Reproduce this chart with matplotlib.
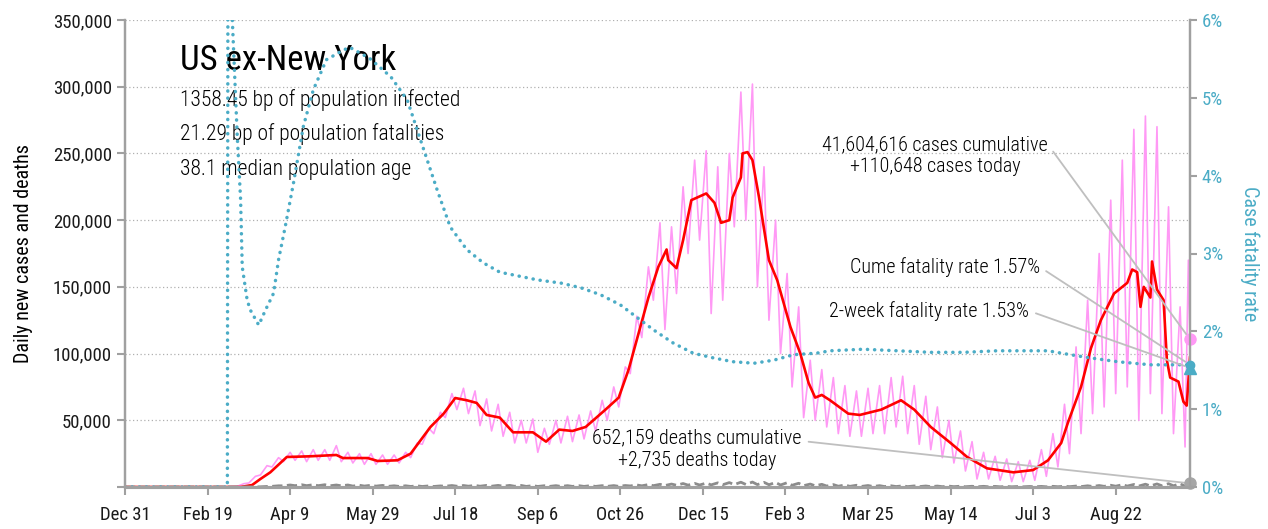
import pandas as pd
import matplotlib
matplotlib.use('Agg')
import matplotlib.pyplot as plt

plt.rcParams['font.family'] = ['Roboto Condensed', 'DejaVu Sans']
plt.rcParams['font.weight'] = 400

# 每周数据：周日低点 / 周四高点
week_start = '2020-03-01'
cases_hi = [300, 2500, 8000, 16000, 22000, 26000, 27000, 28000, 28000, 31000,
            26000, 25000, 25000, 24000, 24000, 26000, 33000, 44000, 56000, 70000,
            74000, 72000, 66000, 62000, 56000, 50000, 51000, 44000, 50000, 53000,
            54000, 57000, 65000, 75000, 90000, 128000, 165000, 198000, 195000, 225000,
            245000, 252000, 240000, 250000, 296000, 302000, 240000, 200000, 160000, 135000,
            95000, 88000, 82000, 76000, 72000, 74000, 76000, 82000, 83000, 76000,
            68000, 60000, 50000, 42000, 34000, 26000, 23000, 21000, 19000, 20000,
            28000, 40000, 62000, 105000, 140000, 175000, 215000, 245000, 268000, 278000,
            270000, 210000, 135000]
cases_lo = [50, 500, 3000, 9000, 15000, 19000, 20000, 19000, 20000, 20000,
            19000, 18000, 17000, 17000, 17000, 18000, 22000, 32000, 40000, 52000,
            58000, 55000, 46000, 42000, 38000, 33000, 33000, 26000, 32000, 33000,
            34000, 36000, 42000, 50000, 60000, 85000, 112000, 140000, 118000, 145000,
            175000, 185000, 130000, 140000, 195000, 200000, 150000, 125000, 100000, 75000,
            52000, 50000, 45000, 40000, 38000, 38000, 40000, 40000, 45000, 40000,
            32000, 28000, 22000, 18000, 12000, 6000, 6000, 5000, 4000, 4000,
            5000, 8000, 15000, 25000, 40000, 55000, 60000, 70000, 75000, 50000,
            70000, 55000, 40000, 30000]
deaths_hi = [0, 10, 80, 400, 900, 1500, 1700, 1700, 1700, 1500,
             1500, 1300, 1300, 1200, 900, 900, 850, 800, 800, 1100,
             1100, 1150, 1200, 1200, 1200, 1150, 1000, 950, 1000, 1000,
             950, 1000, 1000, 1050, 1100, 1500, 1800, 2000, 2200, 2600,
             2700, 2900, 3100, 3300, 3600, 3700, 3500, 3400, 3200, 2800,
             2200, 2000, 1800, 1500, 1300, 1100, 1000, 900, 850, 800,
             750, 700, 650, 600, 550, 500, 450, 420, 400, 400,
             450, 500, 550, 700, 900, 1100, 1300, 1700, 1900, 2100,
             2300, 2500, 2500]
deaths_lo = [0, 5, 30, 150, 500, 900, 1000, 1000, 1000, 900,
             900, 700, 700, 650, 450, 450, 420, 400, 400, 600,
             600, 620, 600, 600, 600, 550, 450, 420, 450, 450,
             450, 450, 450, 480, 500, 800, 900, 1000, 1100, 1300,
             1400, 1500, 1600, 1700, 1800, 1900, 1800, 1700, 1500, 1300,
             1000, 900, 700, 600, 500, 450, 400, 350, 350, 300,
             300, 280, 250, 250, 200, 150, 150, 150, 150, 150,
             150, 150, 200, 250, 300, 400, 500, 600, 700, 700,
             800, 900, 900, 600]
tail_dates = ['2021-10-05', '2021-10-06']
cases_tail = [170000, 110648]
deaths_tail = [2400, 2735]

# 7日均线
avg_dates = ['2019-12-31', '2020-03-10', '2020-03-17', '2020-03-22', '2020-03-28', '2020-04-07',
             '2020-04-21', '2020-05-07', '2020-05-11', '2020-05-26', '2020-06-01', '2020-06-13',
             '2020-06-21', '2020-06-27', '2020-07-03', '2020-07-11', '2020-07-18', '2020-07-25',
             '2020-07-31', '2020-08-06', '2020-08-14', '2020-08-22', '2020-09-03', '2020-09-11',
             '2020-09-19', '2020-09-27', '2020-10-05', '2020-10-17', '2020-10-25', '2020-10-31',
             '2020-11-06', '2020-11-12', '2020-11-18', '2020-11-23', '2020-11-24', '2020-11-29',
             '2020-12-03', '2020-12-08', '2020-12-17', '2020-12-22', '2020-12-26', '2020-12-31',
             '2021-01-02', '2021-01-07', '2021-01-08', '2021-01-11', '2021-01-14', '2021-01-18',
             '2021-01-24', '2021-01-29', '2021-02-06', '2021-02-12', '2021-02-17', '2021-02-21',
             '2021-02-25', '2021-03-02', '2021-03-13', '2021-03-20', '2021-04-02', '2021-04-14',
             '2021-04-22', '2021-05-02', '2021-05-14', '2021-05-24', '2021-06-05', '2021-06-21',
             '2021-07-03', '2021-07-12', '2021-07-20', '2021-07-24', '2021-08-01', '2021-08-07',
             '2021-08-13', '2021-08-21', '2021-08-29', '2021-09-01', '2021-09-04', '2021-09-06',
             '2021-09-08', '2021-09-12', '2021-09-13', '2021-09-16', '2021-09-20', '2021-09-22',
             '2021-09-24', '2021-09-29', '2021-10-02', '2021-10-04', '2021-10-06']
avg_vals = [0, 0, 1500, 6000, 11000, 22500,
            23000, 24000, 21700, 21700, 19500, 20000,
            25000, 35000, 45000, 55000, 66700, 65000,
            63000, 54000, 52000, 41000, 41000, 34000,
            43000, 42000, 45000, 58000, 67000, 88000,
            115000, 142000, 165000, 178000, 170000, 164000,
            185000, 215000, 220000, 213000, 198000, 200000,
            217000, 232000, 250000, 251000, 245000, 217000,
            170000, 155000, 120000, 100000, 78000, 67000,
            69000, 65000, 55000, 54000, 58000, 65000,
            58000, 45000, 33000, 22500, 14000, 11000,
            12700, 20000, 33000, 48000, 75000, 104000,
            125000, 145000, 153000, 163000, 161000, 135000,
            150000, 142000, 169000, 148000, 140000, 95000,
            82000, 79000, 64000, 61000, 97000]

# 病死率 (%)
cfr_dates = ['2019-12-31', '2020-03-02', '2020-03-03', '2020-03-05', '2020-03-08', '2020-03-10',
             '2020-03-11', '2020-03-14', '2020-03-16', '2020-03-21', '2020-03-25', '2020-03-30',
             '2020-04-02', '2020-04-06', '2020-04-11', '2020-04-17', '2020-04-23', '2020-05-01',
             '2020-05-11', '2020-05-15', '2020-05-27', '2020-06-09', '2020-06-19', '2020-06-29',
             '2020-07-07', '2020-07-15', '2020-07-25', '2020-08-04', '2020-08-14', '2020-09-06',
             '2020-09-20', '2020-10-02', '2020-10-14', '2020-10-26', '2020-11-05', '2020-11-15',
             '2020-11-27', '2020-12-09', '2020-12-21', '2021-01-02', '2021-01-15', '2021-01-27',
             '2021-02-08', '2021-02-22', '2021-03-02', '2021-03-22', '2021-04-12', '2021-05-02',
             '2021-05-22', '2021-06-11', '2021-07-12', '2021-07-20', '2021-08-03', '2021-08-23',
             '2021-09-12', '2021-10-06']
cfr_vals = [0, 0, 20.0, 6.0, 4.5, 3.7,
            2.83, 2.4, 2.27, 2.08, 2.27, 2.49,
            2.92, 3.34, 3.9, 4.63, 5.1, 5.49,
            5.61, 5.65, 5.51, 5.27, 4.97, 4.33,
            3.82, 3.34, 3.05, 2.88, 2.76, 2.66,
            2.62, 2.56, 2.47, 2.34, 2.18, 2.02,
            1.85, 1.72, 1.66, 1.61, 1.59, 1.63,
            1.70, 1.72, 1.75, 1.77, 1.75, 1.73,
            1.73, 1.75, 1.75, 1.72, 1.67, 1.61,
            1.57, 1.57]
cume_cfr = 1.57
two_week_cfr = 1.53

tick_labels = ['Dec 31', 'Feb 19', 'Apr 9', 'May 29', 'Jul 18', 'Sep 6', 'Oct 26',
               'Dec 15', 'Feb 3', 'Mar 25', 'May 14', 'Jul 3', 'Aug 22']

# 组装日线
weeks = pd.date_range(week_start, periods=len(cases_lo), freq='7D')
d_x, c_y, dd_y = [pd.Timestamp('2019-12-31')], [0], [0]
for i in range(len(cases_lo)):
    d_x.append(weeks[i]); c_y.append(cases_lo[i]); dd_y.append(deaths_lo[i])
    if i < len(cases_hi):
        d_x.append(weeks[i] + pd.Timedelta(days=4)); c_y.append(cases_hi[i]); dd_y.append(deaths_hi[i])
d_x += list(pd.to_datetime(tail_dates)); c_y += cases_tail; dd_y += deaths_tail
end = pd.Timestamp(tail_dates[-1])

teal = '#4bacc6'
grey = '#a0a0a0'

fig = plt.figure(figsize=(12.68, 5.29), dpi=100)
ax = fig.add_axes([125/1268, 1-487/529, 1065/1268, 467/529])
ax2 = ax.twinx()

ax.plot(d_x, c_y, color='#ff99f5', lw=1.2, zorder=2)
ax.plot(pd.to_datetime(avg_dates), avg_vals, color='#ff0000', lw=1.9, zorder=3)
ax.plot(d_x, dd_y, color='#8c8c8c', lw=2, ls='--', zorder=3)
ax.plot([end], [cases_tail[-1]], 'o', color='#ff99f5', ms=8, clip_on=False, zorder=5)
ax.plot([end], [deaths_tail[-1]], 'o', color='#a6a6a6', ms=8, clip_on=False, zorder=5)

ax2.plot(pd.to_datetime(cfr_dates), cfr_vals, color=teal, lw=2.5, ls=(0, (0.05, 2.0)),
         dash_capstyle='round')
ax2.plot([end], [cume_cfr], 'o', color=teal, ms=6, clip_on=False, zorder=5)
ax2.plot([end], [two_week_cfr], '^', color=teal, ms=9, clip_on=False, zorder=5)

ax.set_xlim(pd.Timestamp('2019-12-31'), end)
ax.set_ylim(0, 350000)
ax2.set_ylim(0, 6)

xt = pd.date_range('2019-12-31', periods=len(tick_labels), freq='50D')
ax.set_xticks(xt)
ax.set_xticklabels(tick_labels, fontsize=13.5)
yt = list(range(0, 350001, 50000))
ax.set_yticks(yt)
ax.set_yticklabels([''] + ['{:,}'.format(v) for v in yt[1:]], fontsize=13.5)
ax2.set_yticks(range(0, 7))
ax2.set_yticklabels(['{}%'.format(v) for v in range(0, 7)], fontsize=13.5, color=teal)

ax.grid(axis='y', color='#b0b0b0', ls=(0, (1, 2)), lw=0.9)
ax.set_axisbelow(True)
for a in (ax, ax2):
    a.spines['top'].set_visible(False)
    a.spines['left'].set_color(grey)
    a.spines['right'].set_color(grey)
    a.spines['bottom'].set_color(grey)
    a.spines['left'].set_linewidth(1.6)
    a.spines['right'].set_linewidth(1.6)
    a.spines['bottom'].set_linewidth(2.2)
ax.tick_params(axis='both', colors=grey, labelcolor='#1a1a1a', length=6, width=1.5)
ax.tick_params(axis='x', pad=8)
ax2.tick_params(axis='y', colors=grey, labelcolor=teal, length=5, width=1.5)

ax.set_ylabel('Daily new cases and deaths', fontsize=14.5, labelpad=14)
ax2.set_ylabel('Case fatality rate', fontsize=14.5, color=teal, rotation=270, labelpad=26)

ax.text(0.052, 0.914, 'US ex-New York', transform=ax.transAxes, fontsize=25, va='center')
ax.text(0.052, 0.829, '1358.45 bp of population infected', transform=ax.transAxes, fontsize=15.5, va='center', weight=300)
ax.text(0.052, 0.756, '21.29 bp of population fatalities', transform=ax.transAxes, fontsize=15.5, va='center', weight=300)
ax.text(0.052, 0.679, '38.1 median population age', transform=ax.transAxes, fontsize=15.5, va='center', weight=300)

lp = dict(arrowstyle='-', color='#bfbfbf', lw=1.3, shrinkA=3, shrinkB=4)
ax.annotate('41,604,616 cases cumulative\n+110,648 cases today', xy=(end, cases_tail[-1]),
            xytext=(0.7606, 0.709), textcoords='axes fraction', ha='center', va='center',
            fontsize=14.5, linespacing=1.2, weight=300, arrowprops=dict(lp, relpos=(1, 0.78)))
ax.annotate('652,159 deaths cumulative\n+2,735 deaths today', xy=(end, deaths_tail[-1]),
            xytext=(0.537, 0.081), textcoords='axes fraction', ha='center', va='center',
            fontsize=14.5, linespacing=1.2, weight=300, arrowprops=dict(lp, relpos=(1, 0.7)))
ax2.annotate('Cume fatality rate 1.57%', xy=(end, cume_cfr),
             xytext=(0.859, 0.471), textcoords='axes fraction', ha='right', va='center',
             fontsize=14.5, weight=300, arrowprops=dict(lp, relpos=(1, 0.5)))
ax2.annotate('2-week fatality rate 1.53%', xy=(end, two_week_cfr),
             xytext=(0.849, 0.377), textcoords='axes fraction', ha='right', va='center',
             fontsize=14.5, weight=300, arrowprops=dict(lp, relpos=(1, 0.5)))

fig.savefig('out.png', dpi=100)
